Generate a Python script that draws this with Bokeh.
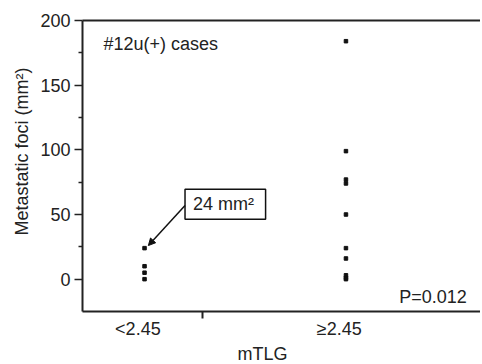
import math
from bokeh.plotting import figure
from bokeh.models import Range1d, FixedTicker, LinearAxis, Label, Arrow, NormalHead, ColumnDataSource, Title
from bokeh.embed import file_html
from bokeh.resources import INLINE

categories = ["<2.45", "\u22652.45"]
cat_pos = [1, 2]
low_vals = [24, 10, 5, 0]
high_vals = [184, 99, 77, 74, 50, 24, 16, 3, 1, 0]
y_ticks = [0, 50, 100, 150, 200]
y_minor = [25, 75, 125, 175]
FONT = "Liberation Sans"
FS = "18px"
COL = "#222222"

p = figure(width=480, height=364, output_backend="svg", toolbar_location=None,
           x_range=Range1d(0.692, 2.668), y_range=Range1d(-25, 200),
           min_border_left=82, min_border_right=0, min_border_top=20, min_border_bottom=53)
p.grid.visible = False
p.outline_line_color = None
p.background_fill_color = "white"

# y axis
ya = p.yaxis[0]
ya.ticker = FixedTicker(ticks=y_ticks, minor_ticks=y_minor)
ya.axis_line_width = 2
ya.axis_line_color = COL
ya.major_tick_out = 8
ya.major_tick_in = 0
ya.minor_tick_out = 4
ya.minor_tick_in = 0
ya.major_tick_line_width = 1.5
ya.minor_tick_line_width = 1.5
ya.major_tick_line_color = COL
ya.minor_tick_line_color = COL
ya.major_label_standoff = 4
ya.major_label_text_font = FONT
ya.major_label_text_font_size = FS
ya.major_label_text_color = COL

# x axis: category labels as major ticks (no marks), one separator mark as minor tick
label_pos = [c - 0.033 for c in cat_pos]
xa = p.xaxis[0]
xa.ticker = FixedTicker(ticks=label_pos, minor_ticks=[1.29])
xa.major_label_overrides = {lp: c for lp, c in zip(label_pos, categories)}
xa.axis_line_width = 2
xa.axis_line_color = COL
xa.major_tick_out = 0
xa.major_tick_in = 0
xa.minor_tick_out = 7
xa.minor_tick_in = 0
xa.minor_tick_line_width = 2
xa.minor_tick_line_color = COL
xa.major_label_standoff = 0
xa.major_label_text_font = FONT
xa.major_label_text_font_size = FS
xa.major_label_text_color = COL

# top border
top = LinearAxis(ticker=FixedTicker(ticks=[], minor_ticks=[]), major_tick_out=0, major_tick_in=0,
                 minor_tick_out=0, minor_tick_in=0, major_label_text_color=None,
                 major_label_text_font_size="1px", axis_line_width=2, axis_line_color=COL)
p.add_layout(top, "above")

# axis titles
p.add_layout(Title(text="mTLG", align="left", offset=155, text_font=FONT, text_font_size=FS,
                   text_font_style="normal", text_color=COL, standoff=0), "below")
p.add_layout(Title(text="Metastatic foci (mm\u00b2)", align="left", offset=76, text_font=FONT,
                   text_font_size=FS, text_font_style="normal", text_color=COL, standoff=11), "left")

# points
xs = [cat_pos[0]] * len(low_vals) + [cat_pos[1]] * len(high_vals)
ys = low_vals + high_vals
src = ColumnDataSource(dict(x=xs, y=ys))
p.scatter("x", "y", source=src, marker="square", size=3.5, color="#111111")

p.add_layout(Label(x=0.796, y=182, text="#12u(+) cases", text_align="left", text_baseline="middle",
                   text_font=FONT, text_font_size=FS, text_color=COL))
p.add_layout(Label(x=2.6, y=-14, text="P=0.012", text_align="right", text_baseline="middle",
                   text_font=FONT, text_font_size=FS, text_color=COL))

# annotation box
p.quad(left=[1.201], right=[1.601], bottom=[46.3], top=[69.5], fill_color="white",
       line_color="#111111", line_width=1.5)
p.add_layout(Label(x=1.241, y=58, text="24 mm\u00b2", text_align="left", text_baseline="middle",
                   text_font=FONT, text_font_size=FS, text_color=COL))
p.add_layout(Arrow(x_start=1.201, y_start=57, x_end=1.019, y_end=26, line_width=1.5,
                   line_color="#111111",
                   end=NormalHead(size=7, fill_color="#111111", line_color="#111111")))

open("out.html", "w").write(file_html(p, INLINE))
